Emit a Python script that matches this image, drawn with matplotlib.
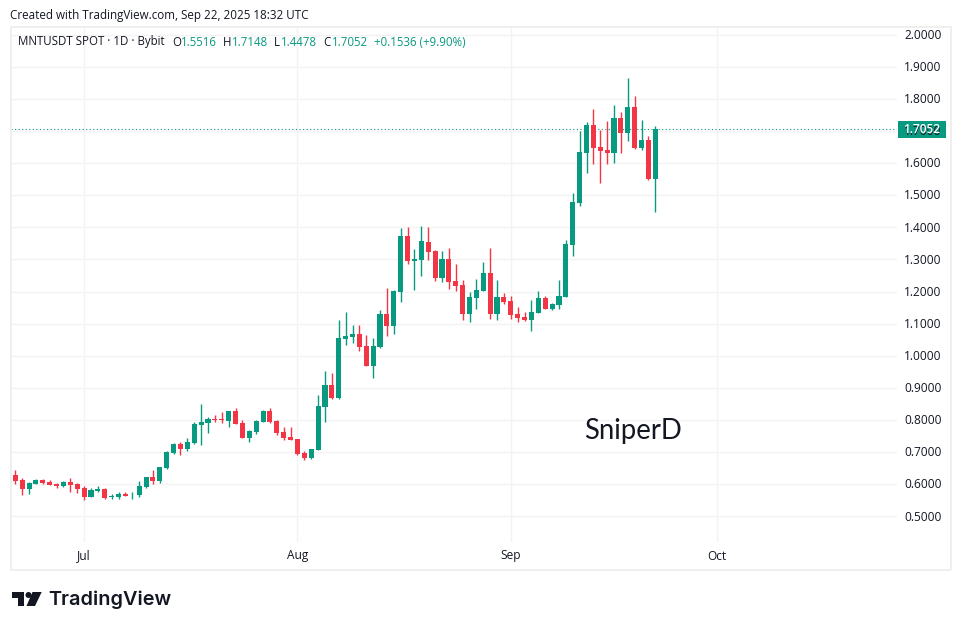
#!/usr/bin/python3

#MNTUSDT daily candles, tradingview snapshot look

import matplotlib
matplotlib.use("Agg")
import matplotlib.pyplot as plt
import matplotlib.dates as mdates
import pandas as pd
from matplotlib.patches import Polygon, Rectangle, Ellipse

W, H = 961, 630
GREEN = '#089981'
RED = '#F23645'
GRID = '#F3F3F3'
FONT = 'Open Sans'

first_day = '2025-06-21'

opens = [.6292, .6135, .5854, .6010, .6135, .6073, .6010, .5948, .6073, .6010,
         .5885, .5604, .5792, .5854, .5604, .5604, .5698, .5688, .5667, .5917,
         .6229, .6104, .6510, .6979, .7250, .7104, .7292, .7854, .7917, .8042,
         .8042, .7979, .8292, .7917, .7448, .7635, .7948, .8292, .7979, .7635,
         .7479, .7417, .6979, .6823, .7073, .8417, .9104, .8698, 1.0510, 1.0573,
         1.0667, 1.0292, .9698, 1.0260, 1.1292, 1.0917, 1.1979, 1.3729, 1.2948, 1.2979,
         1.3542, 1.3260, 1.2417, 1.3010, 1.2323, 1.2198, 1.1292, 1.1792, 1.2010, 1.2573,
         1.1292, 1.1823, 1.1698, 1.1292, 1.1198, 1.1104, 1.1323, 1.1792, 1.1448, 1.1573,
         1.1823, 1.3448, 1.4760, 1.6323, 1.7198, 1.6510, 1.6417, 1.6323, 1.7417, 1.6948,
         1.7760, 1.6479, 1.6729, 1.5516]
highs = [.6448, .6198, .6073, .6167, .6167, .6135, .6042, .6104, .6198, .6042,
         .5948, .5885, .5948, .5885, .5698, .5760, .5760, .5760, .6104, .6229,
         .6448, .6542, .7042, .7292, .7323, .7448, .7948, .8510, .8104, .8167,
         .8260, .8292, .8385, .8010, .7698, .8010, .8323, .8385, .8010, .7792,
         .7792, .7417, .7042, .7104, .8792, .9542, .9479, 1.1104, 1.1354, 1.0948,
         1.0948, 1.0635, 1.0542, 1.1417, 1.2104, 1.2042, 1.3979, 1.4000, 1.3323, 1.4042,
         1.4010, 1.3292, 1.3260, 1.3354, 1.2854, 1.2354, 1.1979, 1.2385, 1.2917, 1.3354,
         1.2354, 1.1948, 1.1854, 1.1510, 1.1354, 1.1729, 1.2010, 1.1854, 1.1635, 1.2354,
         1.3604, 1.5073, 1.7010, 1.7292, 1.7667, 1.7042, 1.7323, 1.7792, 1.7604, 1.8635,
         1.8073, 1.7354, 1.6854, 1.7148]
lows = [.6010, .5667, .5698, .6010, .6010, .5979, .5885, .5917, .5760, .5729,
        .5510, .5604, .5760, .5542, .5542, .5542, .5635, .5542, .5604, .5885,
        .6010, .6042, .6479, .6948, .6917, .7042, .7260, .7229, .7604, .7948,
        .7917, .7792, .7885, .7448, .7323, .7573, .7948, .7917, .7542, .7385,
        .7385, .6917, .6760, .6792, .7073, .7948, .8667, .8667, 1.0323, 1.0385,
        1.0135, .9667, .9323, 1.0229, 1.0604, 1.0667, 1.1667, 1.2854, 1.2042, 1.2479,
        1.2979, 1.2323, 1.2292, 1.2073, 1.2010, 1.1104, 1.1042, 1.1448, 1.2010, 1.1135,
        1.1104, 1.1604, 1.1135, 1.1042, 1.1073, 1.0760, 1.1323, 1.1448, 1.1417, 1.1448,
        1.1823, 1.3104, 1.4667, 1.5698, 1.5979, 1.5385, 1.5979, 1.6010, 1.6323, 1.6698,
        1.6448, 1.6417, 1.5479, 1.4478]
closes = [.6104, .5854, .6042, .6135, .6042, .5979, .5948, .6073, .5979, .5854,
          .5604, .5823, .5854, .5573, .5635, .5698, .5635, .5698, .5948, .6229,
          .6104, .6542, .7010, .7260, .7104, .7323, .7885, .7948, .8042, .8010,
          .8010, .8292, .7885, .7448, .7667, .7979, .8292, .7948, .7604, .7448,
          .7385, .6948, .6823, .7104, .8448, .9104, .8698, 1.0542, 1.0604, 1.0667,
          1.0260, .9698, 1.0292, 1.1292, 1.0917, 1.2010, 1.3729, 1.2948, 1.3010, 1.3573,
          1.3229, 1.2417, 1.3010, 1.2292, 1.2167, 1.1292, 1.1823, 1.2042, 1.2573, 1.1292,
          1.1823, 1.1667, 1.1260, 1.1167, 1.1104, 1.1354, 1.1792, 1.1448, 1.1604, 1.1854,
          1.3479, 1.4792, 1.6354, 1.7198, 1.6479, 1.6385, 1.6323, 1.7417, 1.6948, 1.7760,
          1.6479, 1.6729, 1.5510, 1.7052]

price_ticks = [0.5, 0.6, 0.7, 0.8, 0.9, 1.0, 1.1, 1.2, 1.3, 1.4, 1.5, 1.6, 1.7, 1.8, 1.9, 2.0]
month_ticks = ['2025-07-01', '2025-08-01', '2025-09-01', '2025-10-01']
month_labels = ['Jul', 'Aug', 'Sep', 'Oct']
last_price = 1.7052


def px_text(fig, x, y, s, **kw):
    # x, y in reference pixels from the top left
    kw.setdefault('family', FONT)
    kw.setdefault('va', 'center')
    return fig.text(x / W, 1 - y / H, s, **kw)


def fig_patch(fig, patch):
    patch.set_transform(fig.transFigure)
    fig.add_artist(patch)


def px(x, y):
    return (x / W, 1 - y / H)


fig = plt.figure(figsize=(W / 100, H / 100), dpi=100, facecolor='white')

# pane 11..897 x 27..542 in pixels
ax = fig.add_axes([11 / W, 1 - 542 / H, (897 - 11) / W, (542 - 27) / H])
days = mdates.date2num(pd.date_range(first_day, periods=len(closes)))
px_per_day = 6.882
ax.set_xlim(days[0] + (11 - 15.3) / px_per_day, days[0] + (897 - 15.3) / px_per_day)
ax.set_ylim(2.0 - (542 - 34.55) / 321.25, 2.0 + (34.55 - 27) / 321.25)

for spine in ax.spines.values():
    spine.set_visible(False)
ax.set_xticks(mdates.date2num(pd.to_datetime(month_ticks)))
ax.set_xticklabels([])
ax.set_yticks(price_ticks)
ax.set_yticklabels([])
ax.tick_params(length=0)
ax.grid(True, color=GRID, linewidth=1.0)
ax.set_axisbelow(True)

colors = [GREEN if c >= o else RED for o, c in zip(opens, closes)]
ax.vlines(days, lows, highs, colors=colors, linewidth=1.0, zorder=3)
ax.bar(days, [abs(c - o) for o, c in zip(opens, closes)], bottom=[min(o, c) for o, c in zip(opens, closes)],
       width=0.74, color=colors, linewidth=0, zorder=4)
ax.axhline(last_price, color=GREEN, linewidth=0.8, linestyle=(0, (1, 2.2)), zorder=2)

# price scale labels
for p in price_ticks:
    y = ax.transData.transform((days[0], p))[1] - 0.7
    fig.text(923 / W, y / H, f"{p:.4f}", family=FONT, fontsize=8.6, color='#131722', ha='center', va='center')
y_last = ax.transData.transform((days[0], last_price))[1]
fig_patch(fig, Rectangle((898 / W, (y_last - 8.5) / H), 48 / W, 17 / H, facecolor=GREEN, edgecolor='none'))
fig.text(922 / W, (y_last - 0.7) / H, f"{last_price:.4f}", family=FONT, fontsize=8.6, color='white', weight='semibold', ha='center', va='center')

# month labels
for d, label in zip(pd.to_datetime(month_ticks), month_labels):
    x = ax.transData.transform((mdates.date2num(d), 0))[0]
    fig.text(x / W, 1 - 556 / H, label, family=FONT, fontsize=8.6, color='#131722', ha='center', va='center')

# outer frame
for r in [(10, 26, 941, 1.5), (10, 569, 941, 1.5), (10, 26, 1.5, 544), (950, 26, 1.5, 544)]:
    fig_patch(fig, Rectangle(px(r[0], r[1] + r[3]), r[2] / W, r[3] / H, facecolor='#EFEFEF', edgecolor='none'))

# header
px_text(fig, 10, 15, "Created with TradingView.com, Sep 22, 2025 18:32 UTC", fontsize=8.4, color='#131722')
px_text(fig, 18, 42, "MNTUSDT SPOT · 1D · Bybit", fontsize=8.3, color='#131722')
for x, s in [(172, 'O'), (223, 'H'), (274, 'L'), (323, 'C')]:
    px_text(fig, x, 42, s, fontsize=8.3, color='#131722')
for x, s in [(181, '1.5516'), (232, '1.7148'), (281, '1.4478'), (332, '1.7052'), (374, '+0.1536 (+9.90%)')]:
    px_text(fig, x, 42, s, fontsize=8.3, color=GREEN)

# watermark
px_text(fig, 584, 431, "SniperD", fontsize=19.8, family='Lato', color='#131722')

# logo
fig_patch(fig, Polygon([px(12, 592), px(24, 592), px(24, 606), px(18, 606), px(18, 598), px(12, 598)], facecolor='#131722', edgecolor='none'))
fig_patch(fig, Ellipse(px(28.5, 595), 6 / W, 6 / H, facecolor='#131722', edgecolor='none'))
fig_patch(fig, Polygon([px(32.5, 592), px(41.7, 592), px(35, 606), px(26.5, 606)], facecolor='#131722', edgecolor='none'))
px_text(fig, 48, 600, "TradingView", fontsize=14.3, weight='semibold', family='Inter', color='#131722')

fig.savefig('out.png', dpi=100)
